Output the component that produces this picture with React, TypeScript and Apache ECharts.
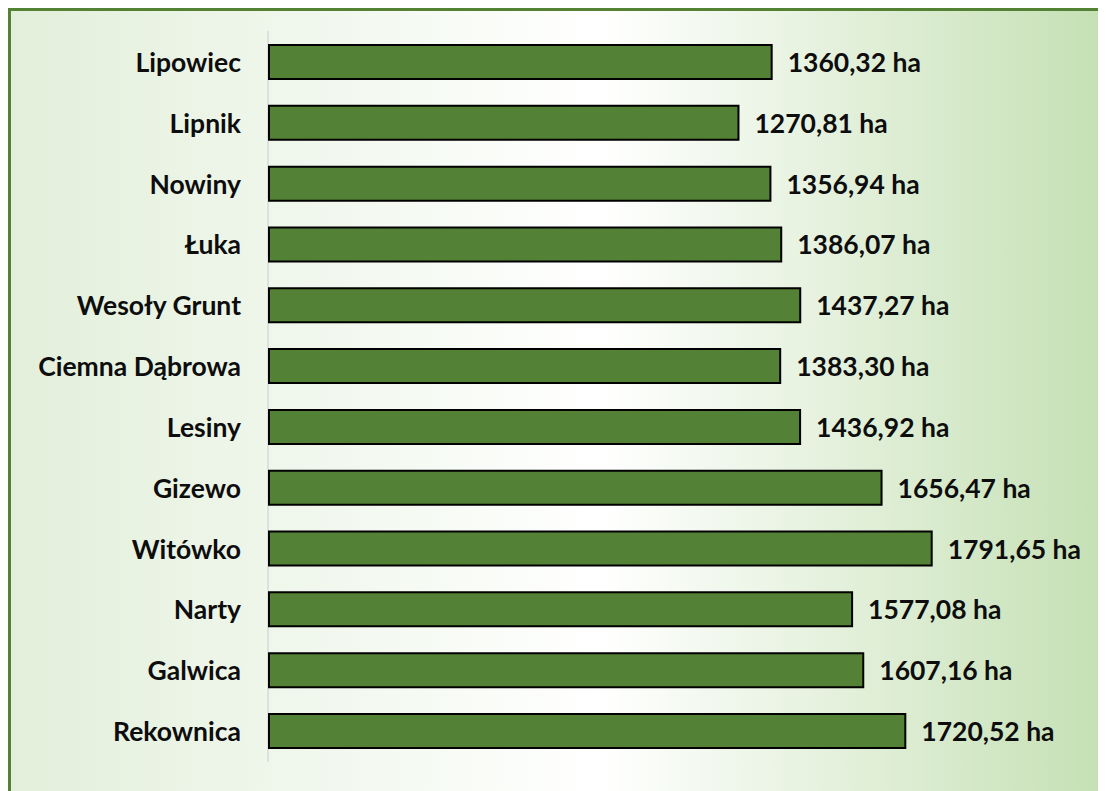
import React, { useEffect, useRef } from "react";
import * as echarts from "echarts";

const categories = [
  "Lipowiec",
  "Lipnik",
  "Nowiny",
  "Łuka",
  "Wesoły Grunt",
  "Ciemna Dąbrowa",
  "Lesiny",
  "Gizewo",
  "Witówko",
  "Narty",
  "Galwica",
  "Rekownica",
];
const areas = [
  1360.32, 1270.81, 1356.94, 1386.07, 1437.27, 1383.3, 1436.92, 1656.47, 1791.65,
  1577.08, 1607.16, 1720.52,
];

const FONT = "Lato";

export default function App() {
  const ref = useRef<HTMLDivElement>(null);
  useEffect(() => {
    document.body.style.overflow = "hidden";
    const chart = echarts.init(ref.current!, null, { renderer: "svg" });
    chart.setOption({
      animation: false,
      backgroundColor: new echarts.graphic.LinearGradient(0, 0, 1, 0, [
        { offset: 0, color: "#e2efda" },
        { offset: 0.54, color: "#ffffff" },
        { offset: 1, color: "#c5e0b4" },
      ]),
      graphic: [
        { type: "rect", shape: { x: 0, y: 0, width: 1098, height: 3 }, style: { fill: "#548235" } },
        { type: "rect", shape: { x: 0, y: 0, width: 3, height: 783 }, style: { fill: "#548235" } },
      ],
      grid: { left: 260, width: 742, top: 23.6, bottom: 29.6, containLabel: false },
      xAxis: {
        type: "value",
        min: 0,
        max: 2000,
        show: false,
      },
      yAxis: {
        type: "category",
        inverse: true,
        data: categories,
        axisLine: { show: true, lineStyle: { color: "#d9d9d9", width: 1.5 } },
        axisTick: { show: false },
        axisLabel: {
          margin: 27,
          color: "#0d0d0d",
          fontFamily: FONT,
          fontWeight: "bold",
          fontSize: 26.5,
        },
      },
      series: [
        {
          type: "bar",
          data: areas,
          barWidth: 36,
          itemStyle: { color: "#538135", borderColor: "#000", borderWidth: 2 },
          label: {
            show: true,
            position: "right",
            distance: 15,
            color: "#0d0d0d",
            fontFamily: FONT,
            fontWeight: "bold",
            fontSize: 26.5,
            formatter: (p: any) => p.value.toFixed(2).replace(".", ",") + " ha",
          },
        },
      ],
    });
    return () => chart.dispose();
  }, []);
  return <div ref={ref} style={{ width: 1098, height: 783 }} />;
}
